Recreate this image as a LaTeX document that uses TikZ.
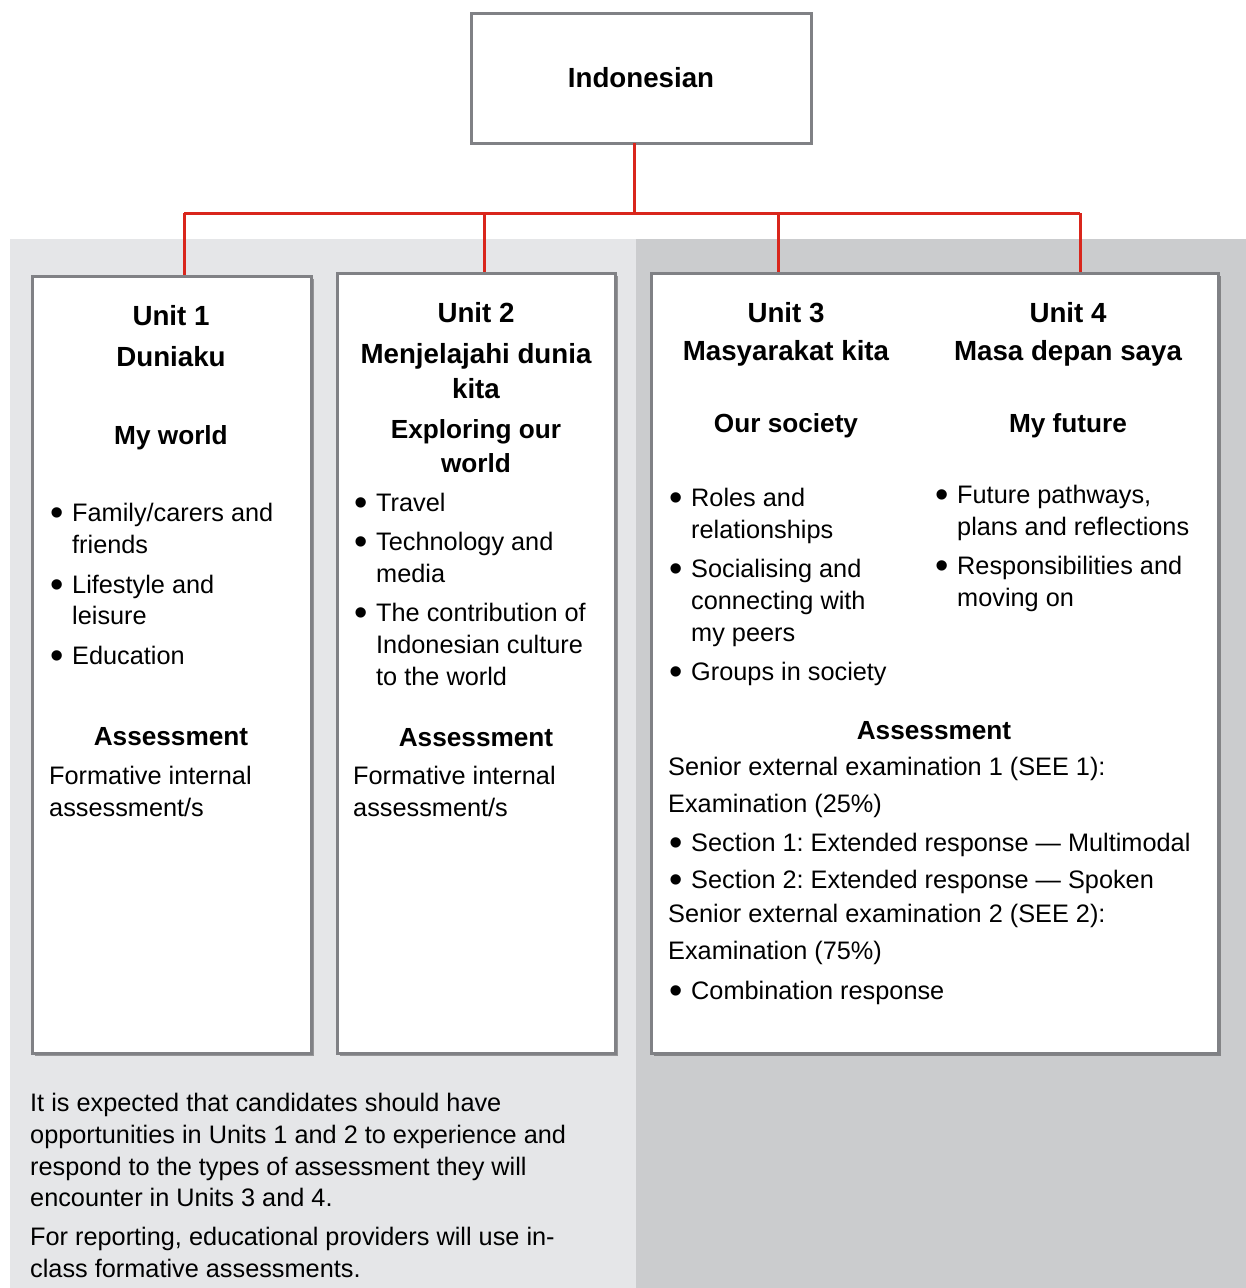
\documentclass[tikz,border=0pt]{standalone}
\usepackage{fontspec}
\setmainfont{Liberation Sans}
\usetikzlibrary{shadows}
\definecolor{redline}{HTML}{D9261C}
\definecolor{boxgray}{HTML}{808185}
\definecolor{bglight}{HTML}{E5E6E8}
\definecolor{bgdark}{HTML}{CBCCCE}
\frenchspacing
\newcommand\myBody{\fontsize{25.3}{32}\selectfont}
\newcommand\myTitle{\fontsize{27.7}{34}\selectfont\bfseries}
\newcommand\mySub{\fontsize{26.2}{32}\selectfont\bfseries}
\newcommand\itm{\makebox[21pt][l]{\hspace{-1pt}\raisebox{-4pt}{\fontsize{38}{38}\selectfont•}}}
\tikzset{
  x=1pt, y=-1pt,
  conn/.style={draw=redline, line width=3pt},
  unitbox/.style={draw=boxgray, line width=3pt, fill=white, rectangle, inner sep=0pt, outer sep=0pt, anchor=north west,
    drop shadow={shadow xshift=2.5pt, shadow yshift=-2.5pt, fill=black, opacity=0.35}},
  topbox/.style={draw=boxgray, line width=3pt, fill=white, rectangle, inner sep=0pt, outer sep=0pt, anchor=north west},
  tl/.style={inner sep=0pt, anchor=base, font=\myTitle},
  sl/.style={inner sep=0pt, anchor=base, font=\mySub},
  bl/.style={inner sep=0pt, anchor=base west, font=\myBody},
}
\begin{document}
\begin{tikzpicture}
\useasboundingbox (0,0) rectangle (1246,1288);
% backgrounds
\fill[bglight] (10,239) rectangle (636,1288);
\fill[bgdark] (636,239) rectangle (1246,1288);

% top box
\node[topbox, minimum width=340pt, minimum height=130pt] (top) at (471,13) {};
\node[inner sep=0pt, font=\myTitle, anchor=base] (toptext) at (641,87) {Indonesian};

% connectors
\coordinate (bus) at (634,213);
\coordinate (d1) at (184,276);
\coordinate (d2) at (484,273);
\coordinate (d3) at (778,273);
\coordinate (d4) at (1080,273);
\coordinate (tdrop) at (634,143);
\draw[conn] (tdrop) -- (bus);
\draw[conn] (d1 |- bus) -- (d4 |- bus);
\draw[conn] (d1 |- bus) -- (d1);
\draw[conn] (d2 |- bus) -- (d2);
\draw[conn] (d3 |- bus) -- (d3);
\draw[conn] (d4 |- bus) -- (d4);

% unit boxes
\node[unitbox, minimum width=279pt, minimum height=777pt] (u1) at (32,276) {};
\node[unitbox, minimum width=278pt, minimum height=780pt] (u2) at (337,273) {};
\node[unitbox, minimum width=567pt, minimum height=780pt] (u34) at (651,273) {};

% Unit 1
\node[tl] (u1a) at (171,325) {Unit 1};
\node[tl] (u1b) at (171,366) {Duniaku};
\node[sl] (u1c) at (171,444) {My world};
\node[bl] (u1d) at (51,521) {\itm Family/carers and};
\node[bl] (u1e) at (72,553) {friends};
\node[bl] (u1f) at (51,593) {\itm Lifestyle and};
\node[bl] (u1g) at (72,624) {leisure};
\node[bl] (u1h) at (51,664) {\itm Education};
\node[sl] (u1i) at (171,745) {Assessment};
\node[bl] (u1j) at (49,784) {Formative internal};
\node[bl] (u1k) at (49,816) {assessment/s};

% Unit 2
\node[tl] (u2a) at (476,322) {Unit 2};
\node[tl] (u2b) at (476,363) {Menjelajahi dunia};
\node[tl] (u2c) at (476,398) {kita};
\node[sl] (u2d) at (476,438) {Exploring our};
\node[sl] (u2e) at (476,472) {world};
\node[bl] (u2f) at (355,511) {\itm Travel};
\node[bl] (u2g) at (355,550) {\itm Technology and};
\node[bl] (u2h) at (376,582) {media};
\node[bl] (u2i) at (355,621) {\itm The contribution of};
\node[bl] (u2j) at (376,653) {Indonesian culture};
\node[bl] (u2k) at (376,685) {to the world};
\node[sl] (u2l) at (476,746) {Assessment};
\node[bl] (u2m) at (353,784) {Formative internal};
\node[bl] (u2n) at (353,816) {assessment/s};

% Unit 3
\node[tl] (u3a) at (786,322) {Unit 3};
\node[tl] (u3b) at (786,360) {Masyarakat kita};
\node[sl] (u3c) at (786,432) {Our society};
\node[bl] (u3d) at (670,506) {\itm Roles and};
\node[bl] (u3e) at (691,538) {relationships};
\node[bl] (u3f) at (670,577) {\itm Socialising and};
\node[bl] (u3g) at (691,609) {connecting with};
\node[bl] (u3h) at (691,641) {my peers};
\node[bl] (u3i) at (670,680) {\itm Groups in society};

% Unit 4
\node[tl] (u4a) at (1068,322) {Unit 4};
\node[tl] (u4b) at (1068,360) {Masa depan saya};
\node[sl] (u4c) at (1068,432) {My future};
\node[bl] (u4d) at (936,503) {\itm Future pathways,};
\node[bl] (u4e) at (957,535) {plans and reflections};
\node[bl] (u4f) at (936,574) {\itm Responsibilities and};
\node[bl] (u4g) at (957,606) {moving on};

% Assessment 3/4
\node[sl] (a1) at (934,739) {Assessment};
\node[bl] (a2) at (668,775) {Senior external examination 1 (SEE 1):};
\node[bl] (a3) at (668,812) {Examination (25\%)};
\node[bl] (a4) at (670,851) {\itm Section 1: Extended response — Multimodal};
\node[bl] (a5) at (670,888) {\itm Section 2: Extended response — Spoken};
\node[bl] (a6) at (668,922) {Senior external examination 2 (SEE 2):};
\node[bl] (a7) at (668,959) {Examination (75\%)};
\node[bl] (a8) at (670,999) {\itm Combination response};

% bottom note
\node[bl] (n1) at (30,1111) {It is expected that candidates should have};
\node[bl] (n2) at (30,1143) {opportunities in Units 1 and 2 to experience and};
\node[bl] (n3) at (30,1175) {respond to the types of assessment they will};
\node[bl] (n4) at (30,1206) {encounter in Units 3 and 4.};
\node[bl] (n5) at (30,1245) {For reporting, educational providers will use in-};
\node[bl] (n6) at (30,1277) {class formative assessments.};
\end{tikzpicture}
\end{document}
